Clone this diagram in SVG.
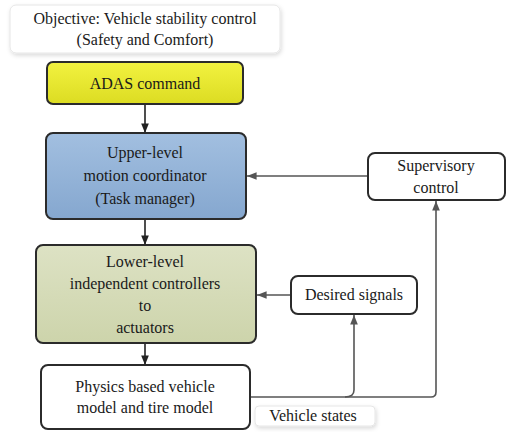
<svg xmlns="http://www.w3.org/2000/svg" width="513" height="447" viewBox="0 0 513 447" font-family="Liberation Serif, Times New Roman, Times, DejaVu Serif, serif">
<defs>
<style>
text{font-size:16px;fill:#1a1a1a;text-anchor:middle}
.box{stroke:#2b2b2b;stroke-width:2}
.conn{fill:none;stroke:#555;stroke-width:1.6}
.connd{fill:none;stroke:#222;stroke-width:1.6}
.soft{fill:#fff;stroke:#e6e6e6;stroke-width:1}
</style>
<linearGradient id="gy" x1="0" y1="0" x2="0" y2="1"><stop offset="0" stop-color="#f2f240"/><stop offset="1" stop-color="#dcdc22"/></linearGradient>
<linearGradient id="gb" x1="0" y1="0" x2="0" y2="1"><stop offset="0" stop-color="#a2bfe0"/><stop offset="1" stop-color="#85a7cf"/></linearGradient>
<linearGradient id="gg" x1="0" y1="0" x2="0" y2="1"><stop offset="0" stop-color="#dde2c4"/><stop offset="1" stop-color="#cdd4ab"/></linearGradient>
<filter id="sh" x="-10%" y="-20%" width="120%" height="150%"><feDropShadow dx="1" dy="2" stdDeviation="2" flood-color="#000" flood-opacity="0.15"/></filter>
<marker id="ad" viewBox="0 0 10 10" refX="10" refY="5" markerWidth="6" markerHeight="6" orient="auto"><path d="M0,1 L10,5 L0,9 z" fill="#222"/></marker>
<marker id="ag" viewBox="0 0 10 10" refX="10" refY="5" markerWidth="6" markerHeight="6" orient="auto"><path d="M0,1 L10,5 L0,9 z" fill="#555"/></marker>
</defs>
<rect width="513" height="447" fill="#fff"/>
<g id="connectors">
<line class="connd" x1="145" y1="104" x2="145" y2="133" marker-end="url(#ad)"/>
<line class="connd" x1="145" y1="219" x2="145" y2="245" marker-end="url(#ad)"/>
<line class="connd" x1="145" y1="343" x2="145" y2="365" marker-end="url(#ad)"/>
<line class="conn" x1="368" y1="176" x2="247" y2="176" marker-end="url(#ag)"/>
<line class="conn" x1="291" y1="295" x2="257" y2="295" marker-end="url(#ag)"/>
<path class="conn" d="M250,397 H431 Q436,397 436,392 V201" marker-end="url(#ag)"/>
<path class="conn" d="M345,397 Q354,397 354,390 V315" marker-end="url(#ag)"/>
</g>
<g id="objective">
<rect class="soft" x="10" y="5" width="270" height="48" rx="6" filter="url(#sh)"/>
<text x="145" y="24">Objective: Vehicle stability control</text>
<text x="145" y="45">(Safety and Comfort)</text>
</g>
<g id="adas">
<rect class="box" x="47" y="62" width="196" height="42" rx="6" fill="url(#gy)"/>
<text x="145" y="89">ADAS command</text>
</g>
<g id="upper">
<rect class="box" x="46" y="133" width="200" height="86" rx="7" fill="url(#gb)"/>
<text x="145" y="158">Upper-level</text>
<text x="145" y="181">motion coordinator</text>
<text x="145" y="204">(Task manager)</text>
</g>
<g id="lower">
<rect class="box" x="36" y="245" width="220" height="98" rx="7" fill="url(#gg)"/>
<text x="145" y="267">Lower-level</text>
<text x="145" y="289">independent controllers</text>
<text x="145" y="311">to</text>
<text x="145" y="333">actuators</text>
</g>
<g id="physics">
<rect class="box" x="41" y="365" width="209" height="64" rx="7" fill="#fff"/>
<text x="145" y="392">Physics based vehicle</text>
<text x="145" y="413">model and tire model</text>
</g>
<g id="supervisory">
<rect class="box" x="368" y="153" width="137" height="47" rx="7" fill="#fff"/>
<text x="436" y="171">Supervisory</text>
<text x="436" y="193">control</text>
</g>
<g id="desired">
<rect class="box" x="291" y="276" width="126" height="38" rx="7" fill="#fff"/>
<text x="354" y="300">Desired signals</text>
</g>
<g id="vehicle-states">
<rect class="soft" x="255" y="406" width="120" height="20" rx="4" filter="url(#sh)"/>
<text x="313" y="421">Vehicle states</text>
</g>
</svg>
